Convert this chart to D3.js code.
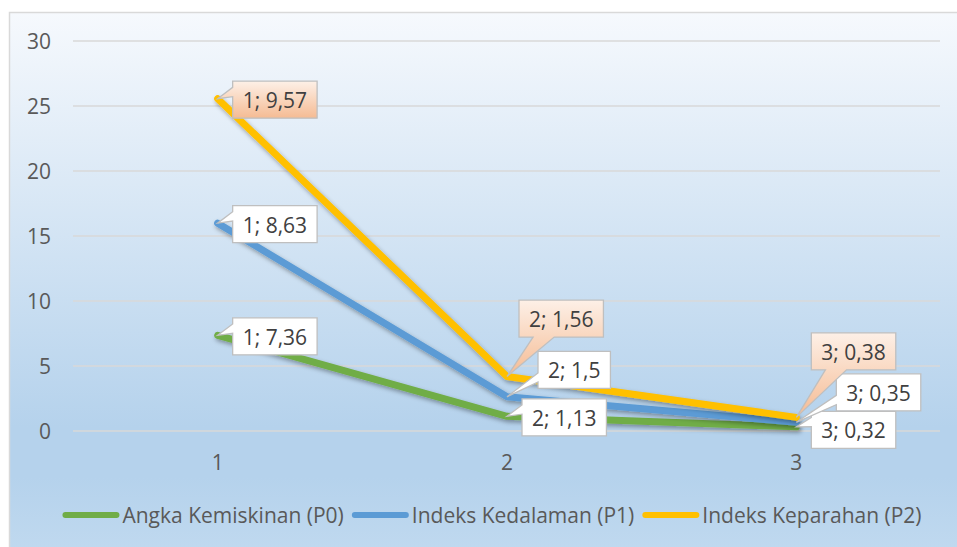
<!DOCTYPE html>
<html>
<head>
<meta charset="utf-8">
<script src="https://cdn.jsdelivr.net/npm/d3@7"></script>
<style>
  html, body { margin: 0; padding: 0; background: #ffffff; }
  svg { display: block; }
  text { font-family: "Open Sans", "Noto Sans", sans-serif; }
</style>
</head>
<body>
<svg id="chart" width="957" height="547"></svg>
<script>
// ---- data ----
const categories = [1, 2, 3];
const seriesNames = ["Angka Kemiskinan (P0)", "Indeks Kedalaman (P1)", "Indeks Keparahan (P2)"];
const p0Values = [7.36, 1.13, 0.32];
const p1Values = [8.63, 1.5, 0.35];
const p2Values = [9.57, 1.56, 0.38];
const yTickValues = [0, 5, 10, 15, 20, 25, 30];

// ---- styles / layout ----
const colors = ["#70ad47", "#5b9bd5", "#ffc000"];
const W = 957, H = 547;
const plot = { left: 73, right: 941, top: 41, bottom: 431 };

// label box placement relative to its point: [dx of box left, dy of box center]
const labelOffsets = [
  [[15, 1], [15, 1], [15, 3]],
  [[15, 1], [31, -27], [40, -30]],
  [[15, 1], [12, -58], [15, -66]]
];

const svg = d3.select("#chart");
const defs = svg.append("defs");

const bg = defs.append("linearGradient").attr("id", "bgGrad")
  .attr("x1", 0).attr("y1", 0).attr("x2", 0).attr("y2", 1);
[[0, "#f6f9fd"], [0.74, "#b5d2ec"], [0.83, "#b5d2ec"], [1, "#c3dbf0"]]
  .forEach(([o, c]) => bg.append("stop").attr("offset", o).attr("stop-color", c));

const peach = defs.append("linearGradient").attr("id", "peachGrad")
  .attr("x1", 0).attr("y1", 0).attr("x2", 0).attr("y2", 1);
[[0, "#fdf0e7"], [1, "#f5bb93"]]
  .forEach(([o, c]) => peach.append("stop").attr("offset", o).attr("stop-color", c));

const shadow = defs.append("filter").attr("id", "shadow")
  .attr("x", "-10%").attr("y", "-10%").attr("width", "130%").attr("height", "130%");
shadow.append("feDropShadow").attr("dx", 1.5).attr("dy", 2.5)
  .attr("stdDeviation", 2).attr("flood-color", "#000").attr("flood-opacity", 0.35);

// background
svg.append("rect").attr("x", 9.5).attr("y", 12.5).attr("width", 980).attr("height", 560)
  .attr("fill", "url(#bgGrad)").attr("stroke", "#d9d9d9").attr("stroke-width", 1.5);

// scales
const x = d3.scaleBand().domain(categories).range([plot.left, plot.right]).padding(0);
const xc = d => x(d) + x.bandwidth() / 2;
const y = d3.scaleLinear().domain([0, 30]).range([plot.bottom, plot.top]);

// gridlines
svg.append("g").selectAll("line").data(yTickValues).join("line")
  .attr("x1", plot.left).attr("x2", plot.right - 1)
  .attr("y1", d => y(d)).attr("y2", d => y(d))
  .attr("stroke", "#d9d9d9").attr("stroke-width", 1.5);

// y axis labels
const yAxis = d3.axisLeft(y).tickValues(yTickValues).tickSize(0).tickPadding(0);
const gy = svg.append("g").attr("transform", `translate(51,0)`).call(yAxis);
gy.select(".domain").remove();
gy.selectAll("text").attr("font-size", 21).attr("fill", "#595959")
  .attr("font-family", '"Open Sans", sans-serif').attr("dy", "0.35em");

// x axis labels
const xAxis = d3.axisBottom(x).tickSize(0).tickPadding(0);
const gx = svg.append("g").attr("transform", `translate(0,463)`).call(xAxis);
gx.select(".domain").remove();
gx.selectAll("text").attr("font-size", 21).attr("fill", "#595959")
  .attr("font-family", '"Open Sans", sans-serif').attr("dy", "0.35em");

// stacked data
const table = categories.map((c, i) => ({ cat: c, s0: p0Values[i], s1: p1Values[i], s2: p2Values[i] }));
const stack = d3.stack().keys(["s0", "s1", "s2"]);
const stacked = stack(table);
const rawSeries = [p0Values, p1Values, p2Values];

const line = d3.line().x(d => xc(d.data.cat)).y(d => y(d[1]));

svg.append("g").selectAll("path").data(stacked).join("path")
  .attr("d", line)
  .attr("fill", "none")
  .attr("stroke", (d, i) => colors[i])
  .attr("stroke-width", 7)
  .attr("stroke-linejoin", "round")
  .attr("stroke-linecap", "round")
  .attr("filter", "url(#shadow)");

// callouts
function calloutPath(bx, by, w, h, tx, ty) {
  const cx = bx + w / 2, cy = by + h / 2;
  const dx = (tx - cx) / w, dy = (ty - cy) / h;
  const p = d3.path();
  if (Math.abs(dx) >= Math.abs(dy)) {
    const y1 = dy < 0 ? by + h * 2 / 12 : by + h * 7 / 12;
    const y2 = dy < 0 ? by + h * 5 / 12 : by + h * 10 / 12;
    if (dx < 0) {
      p.moveTo(bx, by); p.lineTo(bx + w, by); p.lineTo(bx + w, by + h); p.lineTo(bx, by + h);
      p.lineTo(bx, y2); p.lineTo(tx, ty); p.lineTo(bx, y1); p.closePath();
    } else {
      p.moveTo(bx, by); p.lineTo(bx + w, by); p.lineTo(bx + w, y1); p.lineTo(tx, ty);
      p.lineTo(bx + w, y2); p.lineTo(bx + w, by + h); p.lineTo(bx, by + h); p.closePath();
    }
  } else {
    const x1 = dx < 0 ? bx + w * 2 / 12 : bx + w * 7 / 12;
    const x2 = dx < 0 ? bx + w * 5 / 12 : bx + w * 10 / 12;
    if (dy > 0) {
      p.moveTo(bx, by); p.lineTo(bx + w, by); p.lineTo(bx + w, by + h); p.lineTo(x2, by + h);
      p.lineTo(tx, ty); p.lineTo(x1, by + h); p.lineTo(bx, by + h); p.closePath();
    } else {
      p.moveTo(bx, by); p.lineTo(x1, by); p.lineTo(tx, ty); p.lineTo(x2, by);
      p.lineTo(bx + w, by); p.lineTo(bx + w, by + h); p.lineTo(bx, by + h); p.closePath();
    }
  }
  return p.toString();
}

const fmt = v => String(v).replace(".", ",");
const labelLayer = svg.append("g");
stacked.forEach((ser, si) => {
  ser.forEach((d, ci) => {
    const tx = xc(d.data.cat), ty = y(d[1]);
    const txt = `${d.data.cat}; ${fmt(rawSeries[si][ci])}`;
    const g = labelLayer.append("g");
    const path = g.append("path");
    const t = g.append("text").text(txt).attr("font-size", 21).attr("fill", "#404040")
      .attr("dominant-baseline", "central");
    const tw = t.node().getComputedTextLength();
    const w = tw + 20, h = 37;
    const [ox, oy] = labelOffsets[si][ci];
    const bx = tx + ox, by = ty + oy - h / 2;
    path.attr("d", calloutPath(bx, by, w, h, tx, ty))
      .attr("fill", si === 2 ? "url(#peachGrad)" : "#ffffff")
      .attr("stroke", "#bfbfbf").attr("stroke-width", 1.3);
    t.attr("x", bx + 10).attr("y", by + h / 2 + 0.5);
  });
});

// legend
const legend = svg.append("g");
const items = seriesNames.map((n, i) => {
  const g = legend.append("g");
  const t = g.append("text").text(n).attr("font-size", 21).attr("fill", "#595959")
    .attr("dominant-baseline", "central");
  return { g, t, w: t.node().getComputedTextLength() };
});
const symW = 57, symGap = 3, itemGap = 8;
const totalW = d3.sum(items, it => symW + symGap + it.w) + itemGap * (items.length - 1);
let lx = 492 - totalW / 2;
const ly = 515;
items.forEach((it, i) => {
  it.g.append("line").attr("x1", lx + 3).attr("x2", lx + symW - 3)
    .attr("y1", ly).attr("y2", ly)
    .attr("stroke", colors[i]).attr("stroke-width", 6).attr("stroke-linecap", "round");
  it.t.attr("x", lx + symW + symGap).attr("y", ly);
  lx += symW + symGap + it.w + itemGap;
});
</script>
</body>
</html>
